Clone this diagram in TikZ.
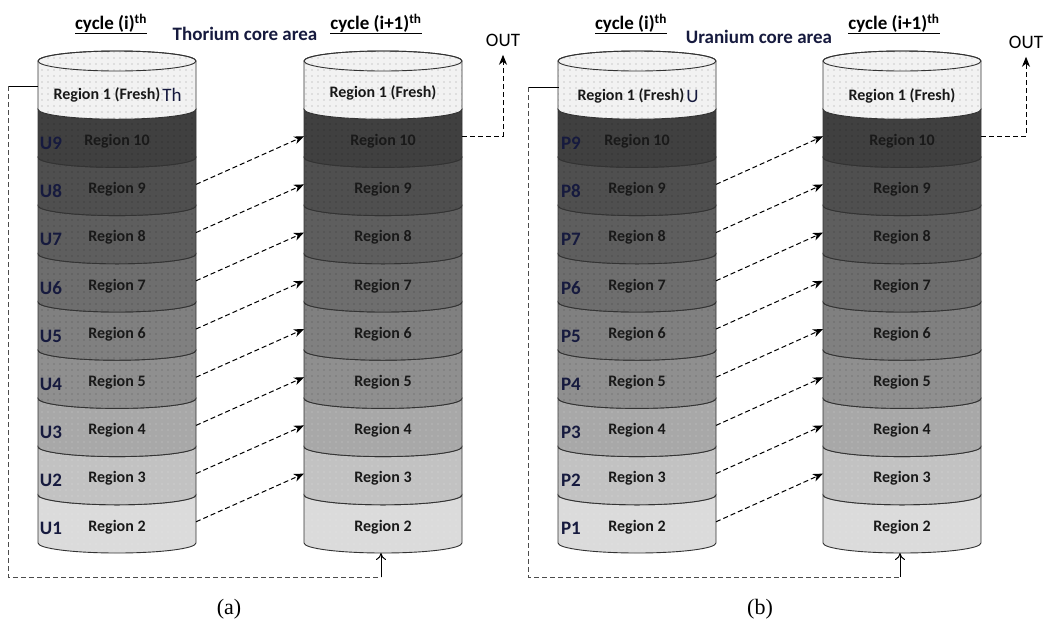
\documentclass[tikz,border=0pt]{standalone}
\usepackage{fontspec}
\setmainfont{Carlito}
\newfontfamily\capfont{Liberation Serif}
\usetikzlibrary{positioning}
\usetikzlibrary{patterns.meta}
\usetikzlibrary{arrows.meta}
\definecolor{navy}{RGB}{22,26,62}

\begin{document}
\begin{tikzpicture}[x=1pt,y=-1pt,
    band/.style={draw=black!80,line width=0.9pt},
    reg/.style={font=\bfseries\fontsize{16}{16}\selectfont,text=black!90},
    tag/.style={font=\bfseries\fontsize{19}{19}\selectfont,text=navy},
    head/.style={font=\bfseries\fontsize{19}{19}\selectfont},
    title/.style={font=\bfseries\fontsize{19}{19}\selectfont,text=navy},
    flow/.style={dashed,dash pattern=on 5pt off 3pt,line width=1pt,-{Stealth[length=10pt,width=8pt,inset=3pt]}},
    back/.style={dashed,dash pattern=on 5pt off 3pt,line width=0.8pt}]
\useasboundingbox (0,0) rectangle (1045,622);

% Place cylinders
\foreach \cx/\cn in {117/aL,383/aR,637/bL,902/bR}{
  \foreach \k/\g/\d in {2/14/white,3/24/white,4/34/white,5/44/black,6/50/black,7/57/black,8/63/black,9/69/black,10/75/black}{
    \pgfmathsetmacro\yt{543-(\k-1)*48.2}
    \draw[band,preaction={fill=black!\g},pattern={Dots[distance=6pt,radius=0.45pt]},pattern color=\d]
      (\cx-79,\yt) -- (\cx-79,\yt+48.2) arc[start angle=180,end angle=360,x radius=79pt,y radius=10pt]
      -- (\cx+79,\yt) arc[start angle=0,end angle=-180,x radius=79pt,y radius=10pt] -- cycle;
    \node[reg] (\cn\k) at (\cx,\yt+32) {Region \k};
    \coordinate (\cn\k-w) at (\cx-79,\yt+27);
    \coordinate (\cn\k-e) at (\cx+79,\yt+27);
  }
  \draw[band,preaction={fill=black!5},pattern={Dots[distance=6pt,radius=0.45pt]},pattern color=black]
    (\cx-79,61) -- (\cx-79,109.2) arc[start angle=180,end angle=360,x radius=79pt,y radius=10pt]
    -- (\cx+79,61) arc[start angle=0,end angle=180,x radius=79pt,y radius=10pt] -- cycle;
  \draw[band] (\cx,61) ellipse[x radius=79pt,y radius=10pt];
}

% Region 1 labels
\node[reg] (aL1) at (107,95) {Region 1 (Fresh)};
\node[font=\fontsize{19}{19}\selectfont,text=navy,right=-5pt of aL1] (aTh) {Th};
\node[reg] (aR1) at (383,93) {Region 1 (Fresh)};
\node[reg] (bL1) at (631,96) {Region 1 (Fresh)};
\node[font=\fontsize{19}{19}\selectfont,text=navy,right=-5pt of bL1] (bU) {U};
\node[reg] (bR1) at (902,96) {Region 1 (Fresh)};

% Tags
\foreach \i in {1,...,9}{
  \pgfmathsetmacro\yy{543-\i*48.2+34}
  \node[tag] (aU\i) at (51,\yy) {U\i};
  \node[tag] (bP\i) at (571,\yy) {P\i};
}

% Headings
\node[head] (aHead1) at (111,24) {\underline{cycle (i)\textsuperscript{th}}};
\node[head] (aHead2) at (376,24) {\underline{cycle (i+1)\textsuperscript{th}}};
\node[title] (aTitle) at (245,34) {Thorium core area};
\node[head] (bHead1) at (631,24) {\underline{cycle (i)\textsuperscript{th}}};
\node[head] (bHead2) at (894,24) {\underline{cycle (i+1)\textsuperscript{th}}};
\node[title] (bTitle) at (759,37) {Uranium core area};
\node[font=\fontsize{19}{19}\selectfont] (aOut) at (503,40) {OUT};
\node[font=\fontsize{19}{19}\selectfont] (bOut) at (1026,42) {OUT};

% Shifts to the next cycle
\foreach \k [evaluate=\k as \j using int(\k+1)] in {2,...,9}{
  \draw[flow] (aL\k-e) -- (aR\j-w);
  \draw[flow] (bL\k-e) -- (bR\j-w);
}
\draw[flow,shorten >=5pt] (aR10-e) -| (aOut);
\draw[flow,shorten >=5pt] (bR10-e) -| (bOut);

% Fresh fuel back to the bottom
\coordinate (aFeed) at (38,86);
\coordinate (aTurn) at (8,86);
\coordinate (aLow) at (381,577);
\coordinate (aBase) at (381,553);
\draw[line width=0.8pt] (aFeed) -- (aTurn);
\draw[back,black!70] (aTurn) -- (8,577) -- (aLow);
\draw[line width=1pt,-{To[length=7pt,width=10pt]}] (aLow) -- (aBase);
\coordinate (bFeed) at (559,87);
\coordinate (bTurn) at (528,87);
\coordinate (bLow) at (900,577);
\coordinate (bBase) at (900,553);
\draw[line width=0.8pt] (bFeed) -- (bTurn);
\draw[back,black!70] (bTurn) -- (528,577) -- (bLow);
\draw[line width=1pt,-{To[length=7pt,width=10pt]}] (bLow) -- (bBase);

% Captions
\node[font=\capfont\fontsize{22}{22}\selectfont] (aCap) at (229,609) {(a)};
\node[font=\capfont\fontsize{22}{22}\selectfont] (bCap) at (760,609) {(b)};
\end{tikzpicture}
\end{document}
